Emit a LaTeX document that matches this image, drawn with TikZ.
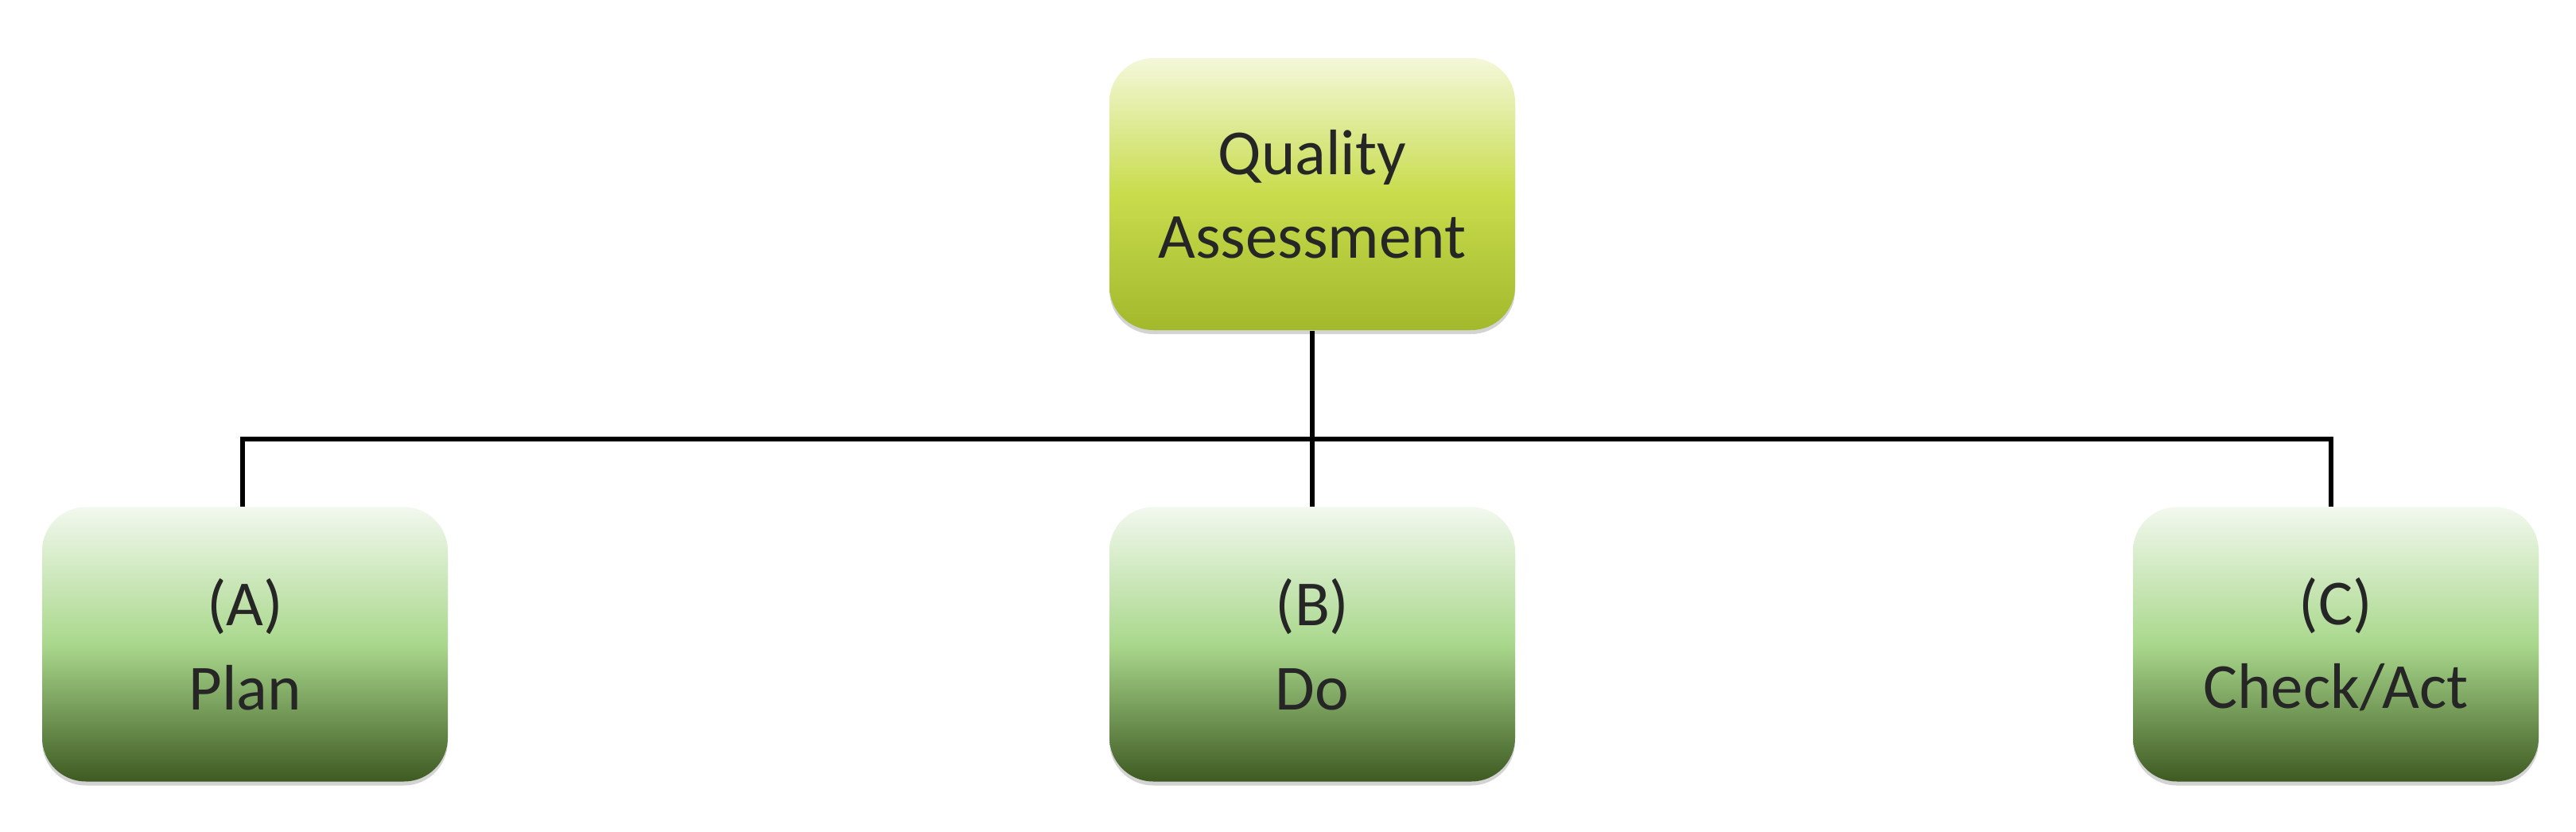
\documentclass[tikz,border=0pt]{standalone}
\usepackage{fontspec}
\setmainfont{Carlito}
\usetikzlibrary{shadows,calc}
\definecolor{gtop}{HTML}{F2F8EE}
\definecolor{gmid}{HTML}{A9D88C}
\definecolor{gbot}{HTML}{3E5A22}
\definecolor{ytop}{HTML}{F4F8DA}
\definecolor{ymid}{HTML}{C8DC4C}
\definecolor{ybot}{HTML}{A3B92C}
\tikzset{
 box/.style={rounded corners=0.55cm, minimum width=5.1cm, minimum height=3.45cm, align=center,
  font=\fontsize{23}{30}\selectfont, text=black!85, drop shadow={shadow xshift=0pt, shadow yshift=-0.05cm, opacity=0.35, fill=gray}},
 greenbox/.style={box, top color=gtop, bottom color=gbot, middle color=gmid},
 yellowbox/.style={box, top color=ytop, bottom color=ybot, middle color=ymid, minimum height=3.42cm},
 conn/.style={line width=1.6pt, black}
}
\begin{document}
\begin{tikzpicture}
\useasboundingbox (0,0) rectangle (32.39,-10.45);
\node[yellowbox] (qa) at (16.50,-2.44) {Quality\\Assessment};
\node[greenbox] (a) at (3.08,-8.10) {(A)\\Plan};
\node[greenbox] (b) at (16.50,-8.10) {(B)\\Do};
\node[greenbox] (c) at (29.37,-8.10) {(C)\\Check/Act};
\coordinate (j) at (16.50,-5.52);
\coordinate (aa) at ($(a.north)+(-0.03,0)$);
\coordinate (cc) at ($(c.north)+(-0.06,0)$);
\draw[conn] (qa.south) -- (b.north);
\draw[conn] (aa) |- (j) -| (cc);
\end{tikzpicture}
\end{document}
